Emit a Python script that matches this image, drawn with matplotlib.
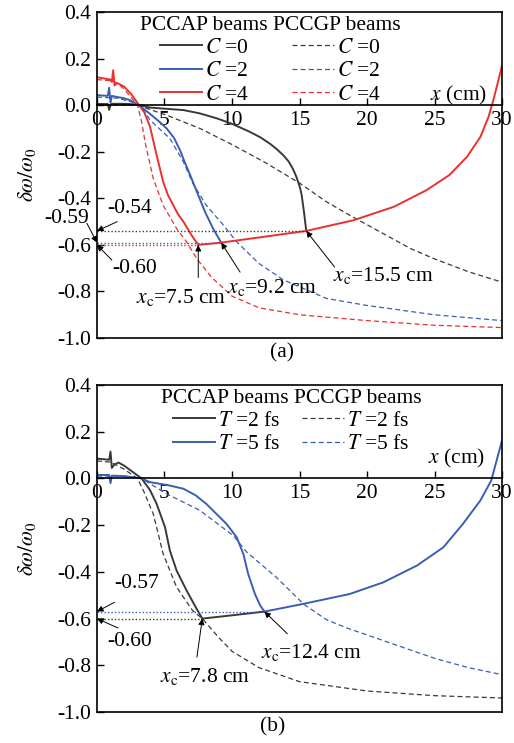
import numpy as np
import matplotlib
matplotlib.use("Agg")
from matplotlib import pyplot as plt

plt.rcParams['font.family'] = ['Liberation Serif', 'DejaVu Serif']
plt.rcParams['mathtext.fontset'] = 'stix'
FS = 15.5
plt.rcParams['font.size'] = FS

BLACK = '#3c3838'
BLUE = '#3a5eb4'
RED = '#ec2f2f'

# ---------------- panel (a): different C ----------------
# PCCAP (solid) before cutoff
a_c0_x = [0, 0.8, 0.9, 1.0, 1.1, 2, 3, 3.9, 5, 6.4, 7.6, 8.9, 10, 11.3, 12.1, 12.8, 13.3, 13.8,
          14.2, 14.5, 14.7, 14.9, 15.05, 15.16, 15.33, 15.5]
a_c0_y = [0.005, 0.005, -0.02, 0.0, 0.006, 0.006, 0.003, -0.01, -0.015, -0.021, -0.035, -0.057,
          -0.08, -0.114, -0.138, -0.165, -0.188, -0.215, -0.242, -0.272, -0.298, -0.329, -0.357,
          -0.386, -0.458, -0.54]
a_c2_x = [0, 0.8, 0.9, 1.0, 1.1, 1.5, 2, 2.5, 3.1, 3.9, 4.5, 5.16, 5.7, 6.15, 6.5, 6.9, 7.4, 8.0,
          8.6, 9.2]
a_c2_y = [0.043, 0.04, 0.075, 0.01, 0.04, 0.035, 0.03, 0.02, 0.0, -0.036, -0.065, -0.10, -0.14,
          -0.193, -0.245, -0.30, -0.372, -0.458, -0.53, -0.59]
a_c4_x = [0, 1.0, 1.1, 1.2, 1.3, 1.5, 2.0, 2.5, 3.0, 3.5, 3.93, 4.42, 4.9, 5.25, 5.65, 6.0, 6.4,
          7.0, 7.5]
a_c4_y = [0.12, 0.11, 0.1, 0.15, 0.085, 0.095, 0.08, 0.05, 0.01, -0.03, -0.093, -0.215, -0.329,
          -0.385, -0.43, -0.468, -0.50, -0.558, -0.60]
# common branch after cutoff (drawn in red)
a_post_x = [7.5, 9.2, 12, 15.5, 19, 22, 24.4, 26.1, 27.4, 28.4, 29.0, 29.35, 29.7, 30]
a_post_y = [-0.60, -0.59, -0.568, -0.54, -0.494, -0.436, -0.365, -0.30, -0.222, -0.136, -0.05,
            0.02, 0.1, 0.17]
# PCCGP (dashed)
a_g0_x = [0, 3, 4, 5.16, 7.63, 10.1, 12.57, 15.04, 17.0, 18.7, 21, 23.2, 25, 27.5, 30]
a_g0_y = [0.0, 0.0, -0.02, -0.043, -0.10, -0.172, -0.25, -0.336, -0.415, -0.472, -0.545, -0.615,
          -0.66, -0.715, -0.76]
a_g2_x = [0, 1.5, 2.5, 3.2, 3.93, 5.4, 6.4, 7.1, 8.1, 9.36, 10.35, 12, 13.8, 17, 20, 25, 30]
a_g2_y = [0.035, 0.03, 0.015, 0.0, -0.064, -0.143, -0.243, -0.336, -0.43, -0.515, -0.587, -0.68,
          -0.75, -0.83, -0.86, -0.90, -0.925]
a_g4_x = [0, 1, 1.5, 2, 2.5, 3, 3.3, 3.6, 4.17, 4.9, 5.9, 6.64, 7.4, 8.5, 10, 12, 15, 20, 25, 30]
a_g4_y = [0.11, 0.105, 0.095, 0.07, 0.035, 0.0, -0.07, -0.17, -0.315, -0.43, -0.53, -0.587, -0.66,
          -0.74, -0.82, -0.87, -0.90, -0.925, -0.945, -0.955]
a_xc = [15.5, 9.2, 7.5]
a_yc = [-0.54, -0.59, -0.60]
a_labels = ['$C$ =0', '$C$ =2', '$C$ =4']

# ---------------- panel (b): different T ----------------
b_t2_x = [0, 0.9, 1.0, 1.1, 1.3, 1.6, 2.0, 2.6, 3.3, 3.93, 4.42, 5.04, 5.4, 5.9, 6.64, 7.3, 7.8]
b_t2_y = [0.085, 0.08, 0.115, 0.045, 0.06, 0.068, 0.055, 0.03, 0.0, -0.05, -0.109, -0.209,
          -0.309, -0.395, -0.48, -0.55, -0.60]
b_t5_x = [0, 0.9, 1.0, 1.1, 2, 3.3, 3.93, 5.2, 6.4, 7.3, 8.1, 9.6, 10.35, 10.84, 11.2, 11.7, 12.1,
          12.4]
b_t5_y = [0.015, 0.015, -0.02, 0.012, 0.01, 0.0, -0.016, -0.028, -0.044, -0.072, -0.109, -0.195,
          -0.252, -0.323, -0.409, -0.495, -0.545, -0.57]
b_post2_x = [7.8, 10, 12.4]
b_post2_y = [-0.60, -0.586, -0.57]
b_post5_x = [12.4, 15.2, 18.7, 21.2, 23.7, 25.65, 27.1, 28.4, 29.2, 29.6, 30]
b_post5_y = [-0.57, -0.538, -0.495, -0.445, -0.373, -0.295, -0.195, -0.094, -0.009, 0.077, 0.163]
b_g2_x = [0, 1, 2, 3, 3.5, 4.17, 4.9, 5.9, 7.1, 7.8, 9, 10, 12, 15, 20, 25, 30]
b_g2_y = [0.075, 0.07, 0.04, 0.0, -0.06, -0.152, -0.323, -0.466, -0.567, -0.60, -0.68, -0.74,
          -0.81, -0.87, -0.91, -0.93, -0.94]
b_g5_x = [0, 2, 3.3, 5.16, 7.63, 10.1, 11.1, 13.3, 15.3, 17.0, 18.5, 20, 22.5, 25, 27.5, 30]
b_g5_y = [0.01, 0.01, 0.0, -0.066, -0.137, -0.245, -0.316, -0.424, -0.538, -0.605, -0.64,
          -0.67, -0.72, -0.77, -0.81, -0.84]
b_xc = [7.8, 12.4]
b_yc = [-0.60, -0.57]
b_labels = ['$T$ =2 fs', '$T$ =5 fs']

yticks = [0.4, 0.2, 0.0, -0.2, -0.4, -0.6, -0.8, -1.0]
ytick_labels = ['0.4', '0.2', '0.0', '-0.2', '-0.4', '-0.6', '-0.8', '-1.0']
xticks = [0, 5, 10, 15, 20, 25, 30]

fig = plt.figure(figsize=(5.14, 7.43), dpi=100)
ax_a = fig.add_axes([0.1887, 0.545, 0.788, 0.4388])
ax_b = fig.add_axes([0.1887, 0.0417, 0.788, 0.4401])


def style_axes(ax):
    ax.set_xlim(0, 30)
    ax.set_ylim(-1.0, 0.4)
    ax.spines['bottom'].set_position(('data', 0))
    ax.plot([0, 1], [0, 0], transform=ax.transAxes, color='k', lw=1.2, clip_on=False)
    for s in ax.spines.values():
        s.set_linewidth(1.2)
    ax.set_xticks(xticks)
    ax.set_yticks(yticks)
    ax.set_yticklabels(ytick_labels)
    ax.tick_params(direction='in', length=5, width=1, labelsize=FS, pad=4)
    ax.set_ylabel(r'$\delta\omega/\omega_0$', fontsize=FS, labelpad=14)


def arrow(ax, tip, tail):
    ax.annotate('', xy=tip, xytext=tail, annotation_clip=False,
                arrowprops=dict(arrowstyle='-|>', color='k', lw=0.7,
                                mutation_scale=9, shrinkA=0, shrinkB=0))


def note(ax, x, y, s):
    ax.text(x, y, s, ha='center', va='center', fontsize=FS, clip_on=False)


dash = (0, (4, 2.5))
dots = (0, (1, 1.5))

# ----- panel (a) -----
ax = ax_a
style_axes(ax)
cols = [BLACK, BLUE, RED]
ax.plot(a_c0_x, a_c0_y, color=BLACK, lw=1.4, label=a_labels[0])
ax.plot(a_c2_x, a_c2_y, color=BLUE, lw=1.4, label=a_labels[1])
ax.plot(a_c4_x, a_c4_y, color=RED, lw=1.4, label=a_labels[2])
ax.plot(a_g0_x, a_g0_y, color=BLACK, lw=0.9, ls=dash, label=a_labels[0])
ax.plot(a_g2_x, a_g2_y, color=BLUE, lw=0.9, ls=dash, label=a_labels[1])
ax.plot(a_g4_x, a_g4_y, color=RED, lw=0.9, ls=dash, label=a_labels[2])
ax.plot(a_post_x, a_post_y, color=RED, lw=1.4)
for xc, yc, c in zip(a_xc, a_yc, cols):
    ax.plot([0, xc], [yc, yc], color=c, lw=1.0, ls=dots)
ax.legend(ncol=2, frameon=False, title='PCCAP beams PCCGP beams', fontsize=FS,
          title_fontsize=FS, handlelength=1.95, handletextpad=0.15, columnspacing=2.0,
          labelspacing=0.15, loc='upper left', bbox_to_anchor=(0.07, 1.035), borderpad=0.2)
note(ax, 26.8, 0.043, '$x$ (cm)')
note(ax, 2.44, -0.442, '-0.54')
arrow(ax, (0, -0.54), (1.5, -0.50))
note(ax, -2.22, -0.485, '-0.59')
arrow(ax, (0, -0.59), (-0.75, -0.507))
note(ax, 2.81, -0.70, '-0.60')
arrow(ax, (0, -0.60), (1.1, -0.665))
note(ax, 6.2, -0.824, '$x_\\mathrm{c}$=7.5 cm')
arrow(ax, (7.5, -0.60), (7.5, -0.74))
note(ax, 13.0, -0.785, '$x_\\mathrm{c}$=9.2 cm')
arrow(ax, (9.2, -0.59), (10.6, -0.717))
note(ax, 21.2, -0.73, '$x_\\mathrm{c}$=15.5 cm')
arrow(ax, (15.5, -0.54), (17.6, -0.695))
fig.text(0.549, 1 - 353 / 743, '(a)', ha='center', va='center', fontsize=FS)

# ----- panel (b) -----
ax = ax_b
style_axes(ax)
ax.plot(b_t2_x, b_t2_y, color=BLACK, lw=1.4, label=b_labels[0])
ax.plot(b_t5_x, b_t5_y, color=BLUE, lw=1.4, label=b_labels[1])
ax.plot(b_g2_x, b_g2_y, color=BLACK, lw=0.9, ls=dash, label=b_labels[0])
ax.plot(b_g5_x, b_g5_y, color=BLUE, lw=0.9, ls=dash, label=b_labels[1])
ax.plot(b_post2_x, b_post2_y, color=BLACK, lw=1.4)
ax.plot(b_post5_x, b_post5_y, color=BLUE, lw=1.4)
for xc, yc, c in zip(b_xc, b_yc, [BLACK, BLUE]):
    ax.plot([0, xc], [yc, yc], color=c, lw=1.0, ls=dots)
ax.legend(ncol=2, frameon=False, title='PCCAP beams PCCGP beams', fontsize=FS,
          title_fontsize=FS, handlelength=1.95, handletextpad=0.15, columnspacing=1.0,
          labelspacing=0.15, loc='upper left', bbox_to_anchor=(0.12, 1.035), borderpad=0.2)
note(ax, 26.6, 0.086, '$x$ (cm)')
note(ax, 2.9, -0.449, '-0.57')
arrow(ax, (0, -0.57), (1.3, -0.53))
note(ax, 2.44, -0.70, '-0.60')
arrow(ax, (0, -0.60), (1.55, -0.64))
note(ax, 8.0, -0.85, '$x_\\mathrm{c}$=7.8 cm')
arrow(ax, (7.8, -0.60), (7.4, -0.765))
note(ax, 15.9, -0.745, '$x_\\mathrm{c}$=12.4 cm')
arrow(ax, (12.4, -0.57), (14.1, -0.665))
fig.text(0.53, 1 - 727 / 743, '(b)', ha='center', va='center', fontsize=FS)

fig.savefig('out.png', dpi=100)
